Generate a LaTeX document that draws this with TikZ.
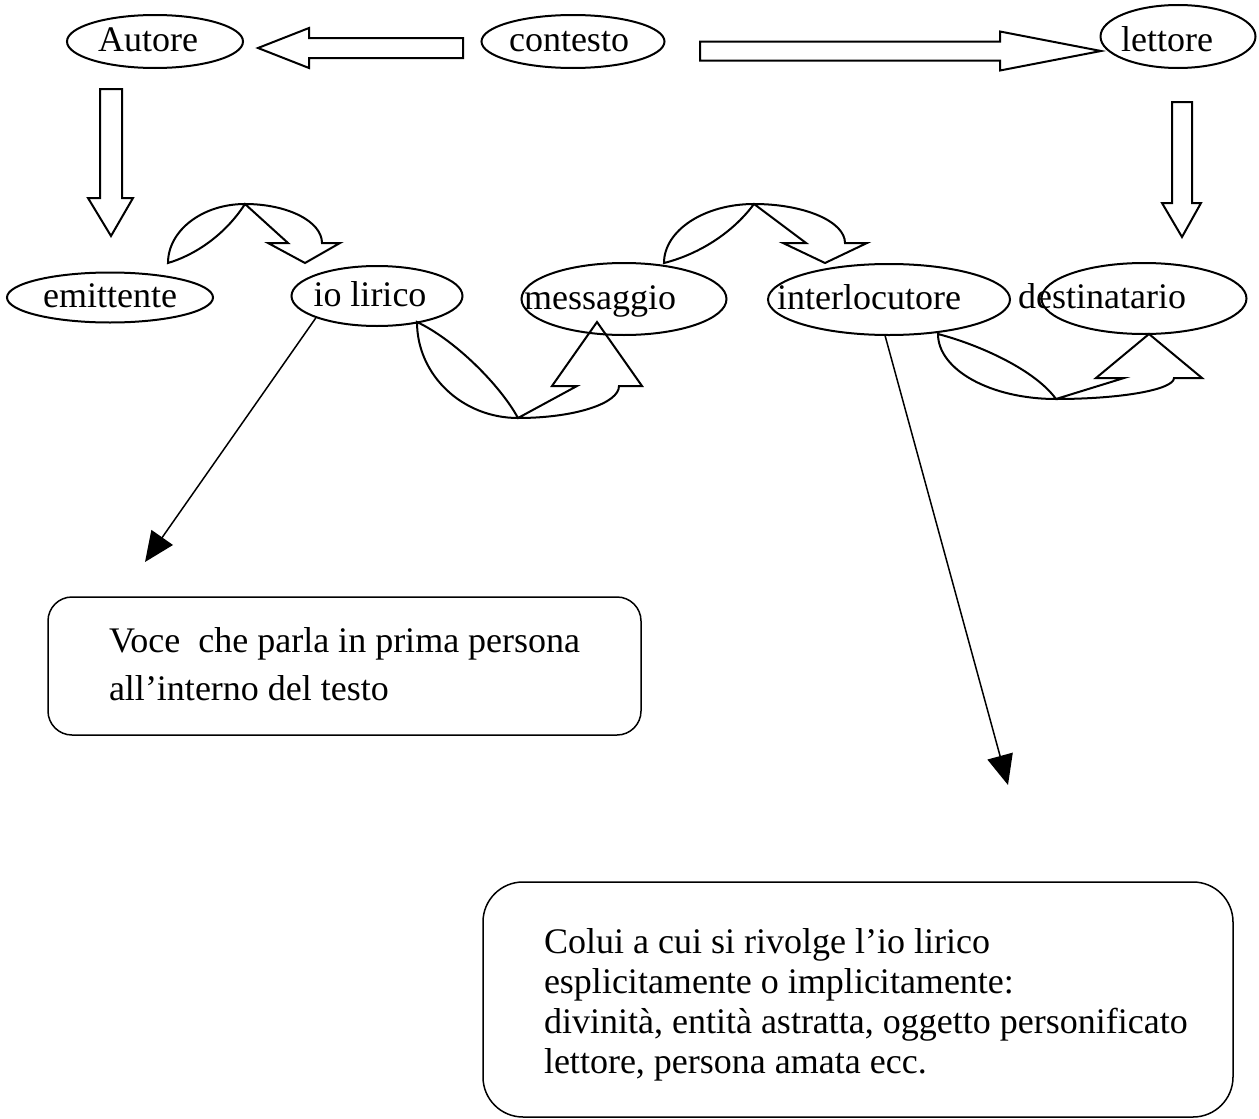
\documentclass[tikz,border=0pt]{standalone}
\usepackage{fontspec}
\setmainfont{Liberation Serif}
\usetikzlibrary{shapes.geometric,arrows.meta}

% text inside an oval, moved sideways (in px of the drawing)
\newcommand{\shifted}[2]{\makebox[0pt]{\hspace*{#1pt}#2}}

\begin{document}
\begin{tikzpicture}[x=0.5pt,y=-0.5pt,line width=1pt,
    font=\fontsize{18}{20}\selectfont,
    oval/.style={ellipse,draw,inner sep=0pt,text height=13pt,text depth=3pt},
    hollow/.style={draw,fill=white,line join=miter},
    box/.style={draw,line width=0.75pt},
    pointer/.style={-{Triangle[length=15pt,width=13pt]},line width=0.75pt}]
    \useasboundingbox (0,0) rectangle (1259,1119);

    % Block arrows
    \draw[hollow] (463,38) -- (309,38) -- (309,28) -- (258,48) -- (309,68) -- (309,58) -- (463,58) -- cycle;
    \draw[hollow] (700,41.5) -- (1000,41.5) -- (1000,31.5) -- (1101,51) -- (1000,70.5) -- (1000,60.5) -- (700,60.5) -- cycle;
    \draw[hollow] (100,89) -- (100,198) -- (88,198) -- (111,236) -- (133,198) -- (122,198) -- (122,89) -- cycle;
    \draw[hollow] (1172,102) -- (1172,203) -- (1162,203) -- (1182,237) -- (1201,203) -- (1192,203) -- (1192,102) -- cycle;

    % Curved arrows over the row
    \draw[hollow] (168,263) arc[start angle=180,end angle=270,x radius=77,y radius=59]
        arc[start angle=270,end angle=360,x radius=77,y radius=39]
        -- (340,243) -- (305,263) -- (268,243) -- (288,243) -- (245,204)
        .. controls (225,235) and (195,255) .. (168,263) -- cycle;
    \draw[hollow] (664,263) arc[start angle=180,end angle=270,x radius=90,y radius=59]
        arc[start angle=270,end angle=360,x radius=91,y radius=39]
        -- (867,243) -- (825,263) -- (783,243) -- (806,243) -- (754,204)
        .. controls (731,235) and (696,255) .. (664,263) -- cycle;

    % Curved arrows under the row
    \draw[hollow] (417,322) arc[start angle=180,end angle=90,x radius=101,y radius=96]
        arc[start angle=90,end angle=0,x radius=101,y radius=32]
        -- (642,386) -- (597,322) -- (552,386) -- (577,386) -- (518,418)
        .. controls (500,385) and (455,340) .. (417,322) -- cycle;
    \draw[hollow] (938,334) arc[start angle=180,end angle=90,x radius=118,y radius=65]
        arc[start angle=90,end angle=0,x radius=118,y radius=21]
        -- (1202,378) -- (1149,334) -- (1096,378) -- (1124,378) -- (1056,399)
        .. controls (1035,370) and (980,345) .. (938,334) -- cycle;

    % Top row
    \node[oval,minimum width=88pt,minimum height=26.5pt] (autore) at (155,41.5) {\shifted{-7}{Autore}};
    \node[oval,minimum width=91.5pt,minimum height=26.5pt] (contesto) at (573,41.5) {\shifted{-4}{contesto}};
    \node[oval,minimum width=77.5pt,minimum height=31.5pt] (lettore) at (1178,36.5) {\raisebox{-2.5pt}{\shifted{-11}{lettore}}};

    % Middle row
    \node[oval,minimum width=103pt,minimum height=25pt] (emittente) at (110,297.5) {emittente};
    \node[oval,minimum width=85.5pt,minimum height=30pt] (iolirico) at (377,296) {\shifted{-7}{io lirico}};
    \node[oval,minimum width=102.5pt,minimum height=36pt] (messaggio) at (624,299) {\shifted{-24}{messaggio}};
    \node[oval,minimum width=121pt,minimum height=35.5pt] (interlocutore) at (889,299.5) {\shifted{-20}{interlocutore}};
    \node[oval,minimum width=102.5pt,minimum height=35.5pt] (destinatario) at (1144,298.5) {\shifted{-42}{destinatario}};

    % Explanations
    \coordinate (tovoce) at (145,562);
    \coordinate (tocolui) at (1008,785);
    \draw[pointer] (iolirico.south west) -- (tovoce);
    \draw[pointer] (interlocutore.264) -- (tocolui);

    \node[box,rounded corners=12pt,minimum width=296.5pt,minimum height=69pt] (voce) at (344.5,666) {};
    \node[anchor=north west,align=left,inner sep=0pt,font=\fontsize{18}{24}\selectfont] (vocetext) at (108,627)
        {Voce\ \ che parla in prima persona\\all’interno del testo};

    \node[box,rounded corners=20pt,minimum width=375pt,minimum height=117.5pt] (colui) at (858,999.5) {};
    \node[anchor=north west,align=left,inner sep=0pt,font=\fontsize{18}{20}\selectfont] (coluitext) at (543,928)
        {Colui a cui si rivolge l’io lirico\\esplicitamente o implicitamente:\\divinità, entità astratta, oggetto personificato\\lettore, persona amata ecc.};

\end{tikzpicture}
\end{document}
